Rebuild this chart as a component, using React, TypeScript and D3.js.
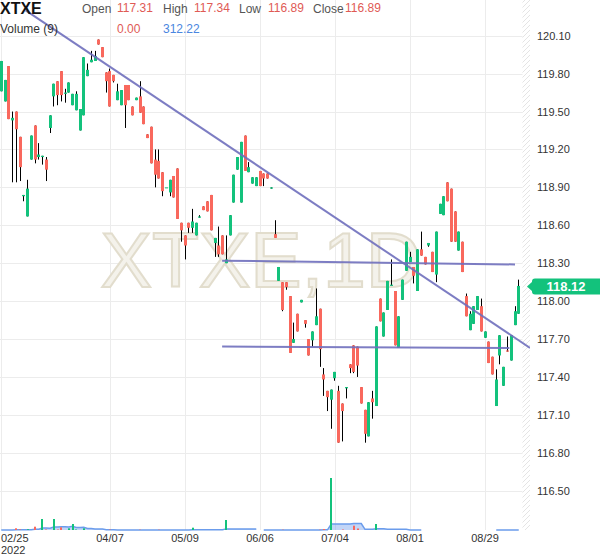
import React from "react";
import * as d3 from "d3";

const W = 600;
const H = 558;

// Daily candles: [open, high, low, close]
const candles: [number, number, number, number][] = [
  [119.66, 119.90, 119.66, 119.90], [119.58, 119.75, 119.58, 119.75], [119.86, 119.86, 119.44, 119.44],
  [119.43, 119.50, 118.94, 119.45], [119.50, 119.50, 118.94, 119.36], [119.30, 119.30, 118.95, 119.06],
  [118.83, 118.84, 118.79, 118.84], [118.67, 118.96, 118.67, 118.89], [119.12, 119.31, 119.12, 119.31],
  [119.39, 119.39, 119.09, 119.12], [119.14, 119.25, 119.12, 119.16], [119.14, 119.15, 119.08, 119.15],
  [119.12, 119.14, 118.95, 119.04], [119.37, 119.47, 119.33, 119.47], [119.62, 119.72, 119.54, 119.72],
  [119.74, 119.74, 119.55, 119.63], [119.82, 119.82, 119.58, 119.63], [119.64, 119.68, 119.57, 119.65],
  [119.65, 119.73, 119.65, 119.73], [119.55, 119.64, 119.55, 119.64], [119.51, 119.66, 119.51, 119.64],
  [119.35, 119.52, 119.35, 119.52], [119.47, 119.93, 119.47, 119.93], [119.78, 119.88, 119.78, 119.83],
  [119.89, 119.98, 119.89, 119.91], [119.90, 119.98, 119.90, 119.94], [120.07, 120.07, 120.03, 120.03],
  [120.01, 120.01, 119.93, 119.93], [119.81, 119.81, 119.65, 119.74], [119.82, 119.84, 119.54, 119.54],
  [119.79, 119.79, 119.73, 119.74], [119.59, 119.72, 119.59, 119.66], [119.55, 119.67, 119.55, 119.67],
  [119.71, 119.71, 119.37, 119.55], [119.71, 119.71, 119.59, 119.59], [119.54, 119.54, 119.47, 119.47],
  [119.59, 119.61, 119.59, 119.61], [119.62, 119.74, 119.49, 119.49], [119.54, 119.54, 119.40, 119.40],
  [119.32, 119.32, 119.29, 119.29], [119.38, 119.38, 119.09, 119.09], [119.12, 119.20, 118.90, 119.00],
  [119.11, 119.20, 118.97, 118.97], [119.02, 119.02, 118.83, 118.87], [118.90, 118.90, 118.90, 118.90],
  [118.86, 118.96, 118.83, 118.96], [118.99, 118.99, 118.82, 118.82], [119.05, 119.05, 118.65, 118.65],
  [118.62, 118.62, 118.47, 118.56], [118.52, 118.52, 118.33, 118.44], [118.62, 118.62, 118.54, 118.58],
  [118.58, 118.73, 118.54, 118.63], [118.52, 118.62, 118.52, 118.62], [118.66, 118.68, 118.66, 118.67],
  [118.75, 118.75, 118.72, 118.72], [118.79, 118.79, 118.71, 118.71], [118.84, 118.84, 118.56, 118.56],
  [118.46, 118.50, 118.35, 118.50], [118.44, 118.59, 118.35, 118.37], [118.52, 118.52, 118.37, 118.37],
  [118.30, 118.52, 118.30, 118.33], [118.52, 118.68, 118.52, 118.68], [118.78, 119.00, 118.78, 119.00],
  [119.04, 119.14, 119.04, 119.14], [118.78, 119.26, 118.78, 119.26], [119.31, 119.31, 119.03, 119.03],
  [119.02, 119.10, 119.02, 119.06], [118.93, 118.98, 118.93, 118.98], [118.91, 118.98, 118.91, 118.98],
  [119.03, 119.03, 118.91, 118.91], [119.01, 119.01, 118.91, 118.97], [119.01, 119.01, 118.97, 118.97],
  [118.89, 118.90, 118.89, 118.90], [118.53, 118.64, 118.50, 118.50], [118.16, 118.27, 118.16, 118.27],
  [118.15, 118.15, 117.92, 117.93], [118.15, 118.15, 118.09, 118.11], [118.04, 118.04, 117.59, 117.59],
  [117.67, 117.83, 117.67, 117.70], [117.90, 117.90, 117.76, 117.76], [117.99, 118.01, 117.99, 118.01],
  [117.85, 117.85, 117.79, 117.82], [117.70, 117.70, 117.57, 117.57], [117.69, 117.76, 117.64, 117.76],
  [117.81, 118.10, 117.81, 117.88], [117.94, 117.94, 117.48, 117.62], [117.42, 117.47, 117.25, 117.38],
  [117.29, 117.29, 117.13, 117.24], [117.22, 117.30, 116.99, 117.30], [117.39, 117.44, 117.37, 117.44],
  [117.29, 117.33, 116.88, 116.88], [117.19, 117.19, 116.89, 117.13], [117.31, 117.32, 117.23, 117.32],
  [117.50, 117.50, 117.43, 117.47], [117.65, 117.65, 117.43, 117.44], [117.64, 117.64, 117.40, 117.49],
  [117.32, 117.32, 117.19, 117.19], [117.14, 117.14, 116.88, 116.95], [116.93, 117.20, 116.93, 117.20],
  [117.23, 117.29, 117.07, 117.20], [117.17, 117.80, 117.17, 117.80], [118.02, 118.02, 117.84, 117.84],
  [117.72, 117.91, 117.72, 117.91], [117.93, 118.16, 117.93, 118.16], [118.12, 118.33, 118.12, 118.13],
  [118.08, 118.08, 117.65, 117.65], [117.63, 117.88, 117.63, 117.88], [118.01, 118.17, 118.01, 118.17],
  [118.24, 118.47, 118.24, 118.47], [118.31, 118.39, 118.31, 118.35], [118.27, 118.27, 118.14, 118.20],
  [118.08, 118.41, 118.08, 118.41], [118.41, 118.55, 118.36, 118.36], [118.35, 118.35, 118.29, 118.29],
  [118.44, 118.46, 118.43, 118.46], [118.39, 118.39, 118.23, 118.23], [118.21, 118.55, 118.15, 118.55],
  [118.69, 118.77, 118.69, 118.77], [118.68, 118.83, 118.68, 118.83], [118.94, 118.94, 118.79, 118.79],
  [118.89, 118.89, 118.47, 118.47], [118.71, 118.71, 118.47, 118.47], [118.40, 118.55, 118.40, 118.55],
  [118.47, 118.47, 118.23, 118.23], [118.04, 118.06, 117.88, 117.88], [117.77, 117.92, 117.77, 117.90],
  [117.82, 117.96, 117.82, 117.96], [117.93, 118.04, 117.93, 118.04], [117.96, 118.02, 117.76, 117.76],
  [117.71, 117.76, 117.71, 117.76], [117.68, 117.68, 117.51, 117.51], [117.56, 117.56, 117.42, 117.42],
  [117.17, 117.46, 117.17, 117.38], [117.57, 117.73, 117.50, 117.73], [117.33, 117.48, 117.33, 117.48],
  [117.61, 117.72, 117.60, 117.60], [117.53, 117.73, 117.53, 117.73], [117.81, 117.96, 117.81, 117.92],
  [117.90, 118.17, 117.90, 118.12],
];

// Daily volume (null where no volume was reported)
const volumes: (number | null)[] = [
  0, 0, 0, 0, 17, 6, 0, 8, 0, 33,
  0, 110, 5, 0, 110, 5, 27, 0, 17, 60,
  5, 0, 17, 0, 0, 0, 0, 0, 0, 4,
  0, 0, 0, 0, 0, 0, 0, 3, 0, 0,
  0, 0, 3, 0, 0, 0, 0, 0, 0, 0,
  0, 23, 0, 0, 0, 0, 0, 0, 0, 0,
  100, 0, 0, 0, 0, 0, 0, 0, 0, null,
  0, 0, 0, 0, 0, 3, 0, 0, 0, 0,
  0, 0, 0, 0, 0, 3, 10, 0, 520, 0,
  0, 5, 0, 0, 43, 15, 0, 0, 0, 0,
  60, 0, 0, 0, 0, 0, 0, 0, 0, 0,
  0, 0, 0, null, null, null, null, null, null, null,
  null, null, null, null, null, null, null, null, null, null,
  null, null, 0, 0, 0, 0, 0, 0, 0,
];

const VOL_PERIOD = 9;

const dateTickIndex = [0, 29, 49, 69, 89, 109, 129];
const dateTickLabels = ["02/25", "04/07", "05/09", "06/06", "07/04", "08/01", "08/29"];
const yearLabel = "2022";

const priceTicks = [120.1, 119.8, 119.5, 119.2, 118.9, 118.6, 118.3, 118.0, 117.7, 117.4, 117.1, 116.8, 116.5];

// Drawn trend lines: pairs of [bar index, price]
const trendLines: [number, number][][] = [
  [[6.5, 120.30], [141, 117.63]],
  [[58.9, 118.32], [137, 118.29]],
  [[58.9, 117.64], [135.5, 117.63]],
];

const symbol = "XTXE";
const interval = "1D";
const headerFields = [
  { label: "Open", value: "117.31" },
  { label: "High", value: "117.34" },
  { label: "Low", value: "116.89" },
  { label: "Close", value: "116.89" },
];
const volumeHeader = { label: `Volume (${VOL_PERIOD})`, values: ["0.00", "312.22"] };

const UP = "#13c27c";
const DOWN = "#f9685d";
const FONT = "'Liberation Sans', Arial, Helvetica, sans-serif";

export default function App() {
  const plotRight = 530;
  const hatchLeft = 522.5;
  const plotBottom = 530;

  const x = d3.scaleLinear().domain([0, 138]).range([1.25, 518.75]);
  const y = d3.scaleLinear().domain([116.5, 120.1]).range([490.7, 35.7]);
  const vy = d3.scaleLinear().domain([0, 600]).range([plotBottom, 470]);

  // Moving average of volume over the last VOL_PERIOD sessions
  const volMA = volumes.map((v, i) => {
    if (v === null) return null;
    const win = volumes.slice(Math.max(0, i - VOL_PERIOD + 1), i + 1).filter((d) => d !== null) as number[];
    return d3.sum(win) / VOL_PERIOD;
  });

  const maArea = d3
    .area<number | null>()
    .defined((d) => d !== null)
    .x((_, i) => x(i))
    .y0(vy(0))
    .y1((d) => vy(d as number));
  const maLine = d3
    .line<number | null>()
    .defined((d) => d !== null)
    .x((_, i) => x(i))
    .y((d) => vy(d as number));

  const lastClose = candles[candles.length - 1][3];
  const headerXs = [82, 117, 163, 194, 239, 268, 313, 345];

  return (
    <svg
      width={W}
      height={H}
      style={{ position: "fixed", left: 0, top: 0, background: "#fff" }}
      fontFamily={FONT}
    >
      <defs>
        <pattern id="hatch" patternUnits="userSpaceOnUse" width="5" height="5">
          <path d="M-1,1 l2,-2 M0,5 l5,-5 M4,6 l2,-2" stroke="#e4e4e4" strokeWidth="1" />
        </pattern>
        <clipPath id="plot">
          <rect x={0} y={0} width={plotRight} height={plotBottom} />
        </clipPath>
      </defs>

      {/* grid */}
      <g stroke="#ececec" strokeWidth={1}>
        {priceTicks.map((p) => (
          <line key={p} x1={0} x2={hatchLeft} y1={Math.round(y(p)) + 0.5} y2={Math.round(y(p)) + 0.5} />
        ))}
        {dateTickIndex.map((i) => (
          <line key={i} x1={Math.round(x(i)) + 0.5} x2={Math.round(x(i)) + 0.5} y1={0} y2={plotBottom} />
        ))}
      </g>
      <rect x={hatchLeft} y={0} width={plotRight - hatchLeft} height={plotBottom} fill="url(#hatch)" />

      {/* watermark */}
      <text
        x={261}
        y={287}
        textAnchor="middle"
        fontSize={77}
        fill="#f4f2eb"
        stroke="#e2ddcd"
        strokeWidth={2}
      >
        {`${symbol},${interval}`}
      </text>

      {/* volume */}
      <path d={maArea(volMA) || ""} fill="rgba(110,155,235,0.42)" />
      <path d={maLine(volMA) || ""} fill="none" stroke="#6b9cec" strokeWidth={1.5} />
      {volumes.map((v, i) =>
        v ? (
          <rect
            key={i}
            x={Math.round(x(i)) - 1}
            y={vy(v)}
            width={2}
            height={vy(0) - vy(v)}
            fill={candles[i][3] >= candles[i][0] ? UP : DOWN}
          />
        ) : null
      )}

      {/* candles */}
      <g clipPath="url(#plot)">
        {candles.map(([o, h, l, c], i) => {
          const left = Math.round(x(i) - 1.5);
          const top = y(Math.max(o, c));
          const bh = Math.max(1, y(Math.min(o, c)) - top);
          return (
            <g key={i}>
              <line x1={left + 1.5} x2={left + 1.5} y1={y(h)} y2={y(l)} stroke="#000" strokeWidth={1} />
              <rect x={left} y={top} width={3} height={bh} fill={c >= o ? UP : DOWN} />
            </g>
          );
        })}
      </g>

      {/* trend lines */}
      <g clipPath="url(#plot)" stroke="#6f6fbd" strokeWidth={2} strokeOpacity={0.9}>
        {trendLines.map((pts, k) => (
          <line key={k} x1={x(pts[0][0])} y1={y(pts[0][1])} x2={x(pts[1][0])} y2={y(pts[1][1])} />
        ))}
      </g>

      {/* header */}
      <text x={0} y={13.5} fontSize={16} fontWeight="bold" fill="#111">
        {symbol}
      </text>
      {headerFields.map((f, k) => (
        <g key={f.label} fontSize={12}>
          <text x={headerXs[k * 2]} y={13} fill="#555">
            {f.label}
          </text>
          <text x={headerXs[k * 2 + 1]} y={12} fill="#e05a55">
            {f.value}
          </text>
        </g>
      ))}
      <text x={0} y={33} fontSize={12} fill="#333">
        {volumeHeader.label}
      </text>
      <text x={117} y={33} fontSize={12} fill="#e05a55">
        {volumeHeader.values[0]}
      </text>
      <text x={163} y={33} fontSize={12} fill="#4a86e0">
        {volumeHeader.values[1]}
      </text>

      {/* price axis */}
      {priceTicks.map((p) => (
        <text key={p} x={537} y={y(p) + 4} fontSize={11} fill="#333">
          {p.toFixed(2)}
        </text>
      ))}

      {/* last price marker */}
      <path d={`M527,${y(lastClose) + 0.5} L533,${y(lastClose) - 5} L533,${y(lastClose) + 6} Z`} fill={UP} />
      <rect x={532} y={y(lastClose) - 7.5} width={72} height={16} rx={3} fill={UP} />
      <text x={566} y={y(lastClose) + 5} textAnchor="middle" fontSize={13} fontWeight="bold" fill="#fff">
        {lastClose.toFixed(2)}
      </text>

      {/* date axis */}
      {dateTickIndex.map((i, k) => (
        <text
          key={i}
          x={k === 0 ? 1 : x(i)}
          y={542}
          fontSize={11}
          fill="#333"
          textAnchor={k === 0 ? "start" : "middle"}
        >
          {dateTickLabels[k]}
        </text>
      ))}
      <text x={1} y={554} fontSize={11} fill="#333">
        {yearLabel}
      </text>
    </svg>
  );
}
